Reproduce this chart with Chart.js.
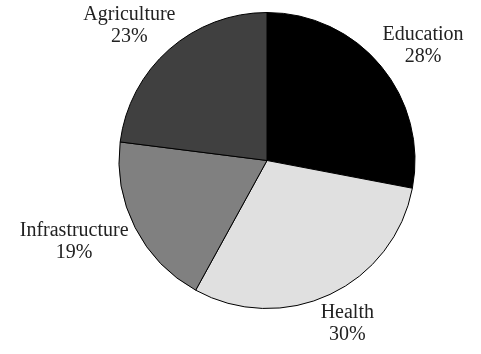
<!DOCTYPE html>
<html>
<head>
<meta charset="utf-8">
<title>Spending by sector</title>
<script src="https://cdn.jsdelivr.net/npm/chart.js@4/dist/chart.umd.min.js"></script>
<style>
  html, body { margin: 0; padding: 0; background: #fff; }
  #wrap { width: 481px; height: 354px; position: relative; }
</style>
</head>
<body>
<div id="wrap"><canvas id="sectorPie"></canvas></div>
<script>
"use strict";

// ---------------- DATA ----------------
const sectors = ["Education", "Health", "Infrastructure", "Agriculture"];
const shares = [28, 30, 19, 23];

const sliceColors = ["#000000", "#e0e0e0", "#808080", "#404040"];

// ---------------- OUTSIDE LABELS ----------------
// name on one line, percentage below, pushed out past the rim
const outsideLabels = {
  id: "outsideLabels",
  afterDatasetsDraw(chart) {
    const ctx = chart.ctx;
    const meta = chart.getDatasetMeta(0);
    const lineH = 22;
    ctx.save();
    ctx.font = "20px 'Liberation Serif', 'Times New Roman', serif";
    ctx.fillStyle = "#222";
    ctx.textAlign = "center";
    ctx.textBaseline = "middle";

    meta.data.forEach((arc, i) => {
      const { x, y, startAngle, endAngle, outerRadius } = arc.getProps(
        ["x", "y", "startAngle", "endAngle", "outerRadius"],
        true
      );
      const mid = (startAngle + endAngle) / 2;
      const cos = Math.cos(mid);
      const sin = Math.sin(mid);

      const lines = [sectors[i], shares[i] + "%"];
      const halfW = Math.max(...lines.map((t) => ctx.measureText(t).width)) / 2;
      const halfH = lineH * lines.length / 2 - 4;

      const r = outerRadius + 14;
      const cx = x + cos * (r + halfW);
      const cy = y + sin * (r + halfH);

      lines.forEach((t, k) => {
        ctx.fillText(t, cx, cy + (k - (lines.length - 1) / 2) * lineH);
      });
    });
    ctx.restore();
  },
};

// ---------------- CHART ----------------
new Chart(document.getElementById("sectorPie"), {
  type: "pie",
  data: {
    labels: sectors,
    datasets: [
      {
        data: shares,
        backgroundColor: sliceColors,
        borderColor: "#000",
        borderWidth: 1,
      },
    ],
  },
  options: {
    responsive: true,
    maintainAspectRatio: false,
    animation: false,
    layout: { padding: { top: 12, bottom: 45, left: 118, right: 65 } },
    plugins: {
      legend: { display: false },
      tooltip: { enabled: false },
    },
  },
  plugins: [outsideLabels],
});
</script>
</body>
</html>
